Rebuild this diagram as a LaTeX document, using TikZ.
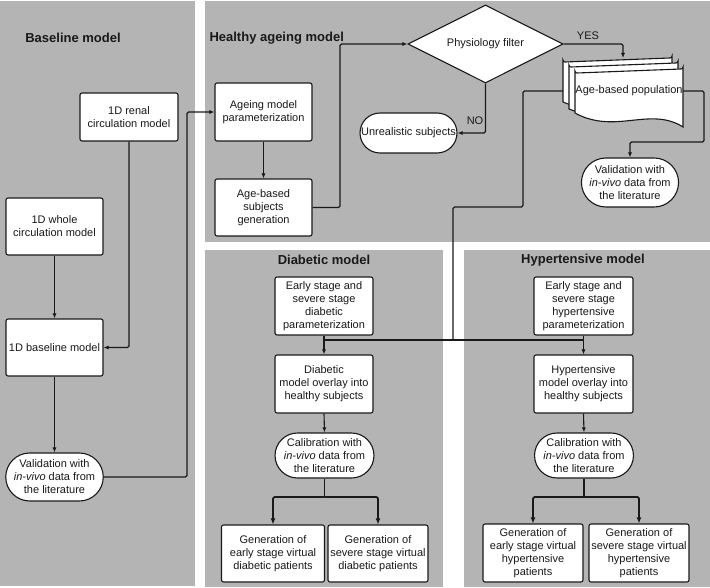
\documentclass[tikz,border=0pt]{standalone}
\usepackage{fontspec}
\setmainfont{Liberation Sans}
\usetikzlibrary{shapes.geometric,shapes.misc,arrows.meta}
\definecolor{panel}{RGB}{180,180,180}
\definecolor{ink}{RGB}{25,25,25}
\begin{document}
\begin{tikzpicture}[x=1pt,y=-1pt,
  every node/.style={font=\fontsize{11}{13}\selectfont, text=ink},
  box/.style={draw=ink, fill=white, line width=1.1pt, rounded corners=2pt, align=center, inner sep=1pt},
  stad/.style={draw=ink, fill=white, line width=1.1pt, rounded rectangle, align=center, inner sep=1pt},
  title/.style={font=\fontsize{13}{15}\selectfont\bfseries},
  conn/.style={draw=ink, line width=1.1pt, rounded corners=1.5pt},
  arr/.style={conn, -{Latex[length=5pt,width=4pt]}},
  barr/.style={draw=ink, line width=1.8pt, rounded corners=2pt, -{Latex[length=6pt,width=5pt]}},
  docshape/.style={draw=ink, fill=white, line width=1.1pt}
]
\useasboundingbox (0,0) rectangle (710,588);
% panels
\fill[panel] (0,1) rectangle (195,586);
\fill[panel] (205,1) rectangle (710,242);
\fill[panel] (205,250) rectangle (443,587);
\fill[panel] (464,250) rectangle (710,587);

% titles
\node[title] (tB) at (73,38) {Baseline model};
\node[title, anchor=west] (tH) at (206,38) {Healthy ageing model};
\node[title] (tD) at (324,260) {Diabetic model};
\node[title] (tY) at (583,260) {Hypertensive model};

% baseline panel
\node[box, minimum width=98pt, minimum height=48pt] (renal) at (129,117) {1D renal\\circulation model};
\node[box, minimum width=97pt, minimum height=57pt] (whole) at (54.5,226.5) {1D whole\\circulation model};
\node[box, minimum width=97pt, minimum height=57pt] (base) at (54.5,347.5) {1D baseline model};
\node[stad, minimum width=97pt, minimum height=48pt] (valB) at (54.5,477) {Validation with\\\textit{in-vivo} data from\\the literature};

% healthy panel
\node[box, minimum width=97pt, minimum height=58pt] (ageing) at (263.5,112) {Ageing model\\parameterization};
\node[box, minimum width=97pt, minimum height=57pt] (agegen) at (263.5,207.5) {Age-based\\subjects\\generation};
\node[diamond, draw=ink, fill=white, line width=1.1pt, minimum width=155pt, minimum height=78pt, inner sep=0pt] (dia) at (485.5,44) {};
\node (diat) at (485.5,44) {Physiology filter};
\node[stad, minimum width=99pt, minimum height=40pt] (unreal) at (408.5,133) {Unrealistic subjects};

% multi-document
\path[docshape] (563,102) -- (563,60) arc[start angle=180,end angle=270,radius=2pt] -- (670,58) arc[start angle=270,end angle=360,radius=2pt] -- (672,115) .. controls (640,100) and (600,118) .. (563,102) -- cycle;
\path[docshape] (569,109) -- (569,65) arc[start angle=180,end angle=270,radius=2pt] -- (676,63) arc[start angle=270,end angle=360,radius=2pt] -- (678,121) .. controls (646,106) and (606,124) .. (569,109) -- cycle;
\path[docshape] (575,113) -- (575,71) arc[start angle=180,end angle=270,radius=2pt] -- (681,69) arc[start angle=270,end angle=360,radius=2pt] -- (683,127) .. controls (650,106) and (615,135) .. (575,113) -- cycle;
\node (doc) at (629,91) {Age-based population};
\coordinate (docR) at (683,91);
\coordinate (docL) at (563,91);
\coordinate (docT) at (623,58);

\node[stad, minimum width=94pt, minimum height=49pt] (valH) at (630,182.5) {Validation with\\\textit{in-vivo} data from\\the literature};

% diabetic panel
\node[box, minimum width=98pt, minimum height=58pt] (dP) at (324,306) {Early stage and\\severe stage\\diabetic\\parameterization};
\node[box, minimum width=98pt, minimum height=58pt] (dO) at (324,384) {Diabetic\\model overlay into\\healthy subjects};
\node[stad, minimum width=95pt, minimum height=45pt] (dC) at (324.5,455.5) {Calibration with\\\textit{in-vivo} data from\\the literature};
\node[box, minimum width=103pt, minimum height=57pt] (dE) at (273,553.5) {Generation of\\early stage virtual\\diabetic patients};
\node[box, minimum width=100pt, minimum height=57pt] (dS) at (378,553.5) {Generation of\\severe stage virtual\\diabetic patients};

% hypertensive panel
\node[box, minimum width=99pt, minimum height=58pt] (hP) at (583.5,306) {Early stage and\\severe stage\\hypertensive\\parameterization};
\node[box, minimum width=99pt, minimum height=58pt] (hO) at (583.5,384) {Hypertensive\\model overlay into\\healthy subjects};
\node[stad, minimum width=96pt, minimum height=45pt] (hC) at (584,455.5) {Calibration with\\\textit{in-vivo} data from\\the literature};
\node[box, minimum width=100pt, minimum height=58pt] (hE) at (533,553) {Generation of\\early stage virtual\\hypertensive\\patients};
\node[box, minimum width=100pt, minimum height=58pt] (hS) at (639,553) {Generation of\\severe stage virtual\\hypertensive\\patients};

% connectors baseline
\draw[arr] (whole.south) -- (base.north);
\draw[arr] (renal.south) |- (base.east);
\draw[arr] (base.south) -- (valB.north);
\coordinate (k1) at (187,112);
\draw[arr] (valB.east) -| (k1) -- (ageing.west);

% healthy
\draw[arr] (ageing.south) -- (agegen.north);
\coordinate (k2) at (340,44);
\draw[arr] (agegen.east) -| (k2) -- (dia.west);
\draw[arr] (dia.east) -| (docT);
\node (yes) at (588,36) {YES};
\draw[arr] (dia.south) |- (unreal.east);
\node (no) at (475,121) {NO};
\coordinate (k3) at (704,142);
\draw[arr] (docR) -| (k3) -| (valH.north);

% to disease models
\coordinate (k4) at (523,207);
\coordinate (k5) at (453,340);
\coordinate (jD) at (324,340);
\coordinate (jH) at (583.5,340);
\draw[conn] (docL) -| (k4) -| (k5);
\draw[conn] (jD) -- (jH);
\draw[arr] (dP.south) -- (dO.north);
\draw[arr] (hP.south) -- (hO.north);

% diabetic branches
\draw[arr] (dO.south) -- (dC.north);
\coordinate (bD) at (324.5,497);
\draw[conn] (dC.south) -- (bD);
\draw[barr] (bD) -| (dE.north);
\draw[barr] (bD) -| (dS.north);

% hypertensive branches
\draw[arr] (hO.south) -- (hC.north);
\coordinate (bH) at (584,497);
\draw[conn] (hC.south) -- (bH);
\draw[barr] (bH) -| (hE.north);
\draw[barr] (bH) -| (hS.north);
\end{tikzpicture}
\end{document}
